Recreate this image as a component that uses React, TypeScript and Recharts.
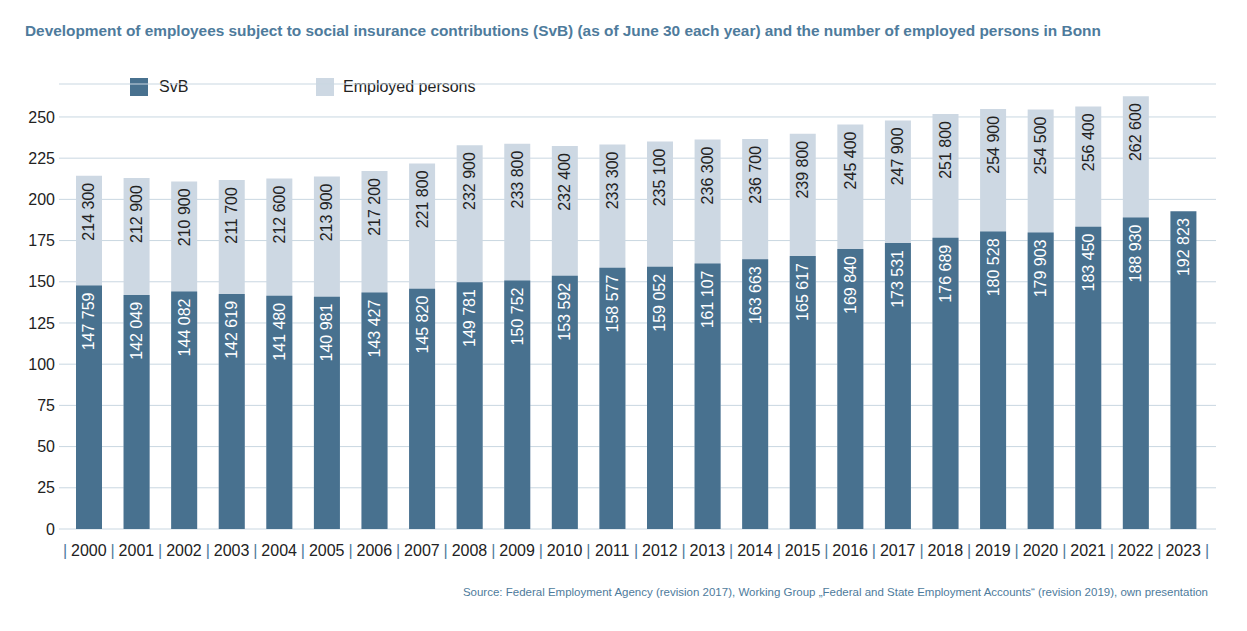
import { Bar, BarChart, CartesianGrid, XAxis, YAxis, LabelList } from "recharts"

const years = ["2000", "2001", "2002", "2003", "2004", "2005", "2006", "2007", "2008", "2009", "2010", "2011", "2012", "2013", "2014", "2015", "2016", "2017", "2018", "2019", "2020", "2021", "2022", "2023"]

// Sozialversicherungspflichtig Beschäftigte (30.06.)
const svb = [147759, 142049, 144082, 142619, 141480, 140981, 143427, 145820, 149781, 150752, 153592, 158577, 159052, 161107, 163663, 165617, 169840, 173531, 176689, 180528, 179903, 183450, 188930, 192823]

// Erwerbstätige (2023 noch nicht verfügbar)
const employed = [214300, 212900, 210900, 211700, 212600, 213900, 217200, 221800, 232900, 233800, 232400, 233300, 235100, 236300, 236700, 239800, 245400, 247900, 251800, 254900, 254500, 256400, 262600, null]

const yTicks = [0, 25, 50, 75, 100, 125, 150, 175, 200, 225, 250]

const DARK = "#48718f"
const LIGHT = "#cdd8e3"
const ACCENT = "#4e7b9c"
const FONT = "'Liberation Sans', Arial, sans-serif"

const chartData = years.map((y, i) => ({
  year: y,
  svb: svb[i] / 1000,
  employed: employed[i] === null ? null : (employed[i] as number) / 1000,
}))

// 147759 -> "147 759"
const fmt = (v: number) => {
  const s = String(v)
  return s.slice(0, s.length - 3) + " " + s.slice(s.length - 3)
}

const makeLabel = (fill: string, raw: (number | null)[]) => (props: any) => {
  const { x, y, width, index } = props
  const v = raw[index]
  if (v === null || v === undefined || typeof x !== "number") return null
  const cx = x + width / 2
  const cy = y + 7
  return (
    <text
      x={cx}
      y={cy}
      transform={`rotate(-90 ${cx} ${cy})`}
      textAnchor="end"
      dominantBaseline="central"
      fill={fill}
      fontSize={16}
      fontFamily={FONT}
    >
      {fmt(v)}
    </text>
  )
}

const YearTick = (props: any) => {
  const { x, y, payload, index } = props
  const half = 23.8
  const ty = y + 19
  return (
    <g>
      <text x={x - half} y={ty} textAnchor="middle" fill={ACCENT} fontSize={16} fontFamily={FONT}>|</text>
      <text x={x} y={ty} textAnchor="middle" fill="#222" fontSize={16} fontFamily={FONT}>{payload.value}</text>
      {index === years.length - 1 && (
        <text x={x + half} y={ty} textAnchor="middle" fill={ACCENT} fontSize={16} fontFamily={FONT}>|</text>
      )}
    </g>
  )
}

export default function App() {
  return (
    <div style={{ position: "absolute", left: 0, top: 0, width: 1247, height: 631, background: "#fff", fontFamily: FONT }}>
      <div style={{ position: "absolute", left: 25, top: 22, fontSize: 15.4, fontWeight: "bold", color: ACCENT, whiteSpace: "nowrap" }}>
        Development of employees subject to social insurance contributions (SvB) (as of June 30 each year) and the number of employed persons in Bonn
      </div>
      <div style={{ position: "absolute", left: 130, top: 78, width: 18, height: 18, background: DARK }} />
      <div style={{ position: "absolute", left: 159, top: 78, fontSize: 16, color: "#222" }}>SvB</div>
      <div style={{ position: "absolute", left: 316, top: 78, width: 18, height: 18, background: LIGHT }} />
      <div style={{ position: "absolute", left: 343, top: 78, fontSize: 16, color: "#222" }}>Employed persons</div>
      <div style={{ position: "absolute", left: 0, top: 0 }}>
        <BarChart
          width={1247}
          height={631}
          data={chartData}
          margin={{ top: 84, right: 31, left: 0, bottom: 72 }}
          barSize={26}
          barGap={-26}
        >
          <CartesianGrid vertical={false} stroke="#c9d7e1" strokeWidth={1} />
          <XAxis
            dataKey="year"
            axisLine={false}
            tickLine={false}
            padding={{ left: 6, right: 9 }}
            tick={<YearTick />}
            interval={0}
            height={30}
          />
          <YAxis
            domain={[0, 270]}
            ticks={yTicks}
            allowDataOverflow
            axisLine={false}
            tickLine={false}
            tickSize={0}
            tickMargin={4}
            width={59}
            tick={{ fill: "#222", fontSize: 16, fontFamily: FONT }}
          />
          <Bar dataKey="employed" fill={LIGHT} isAnimationActive={false}>
            <LabelList dataKey="employed" content={makeLabel("#222", employed)} />
          </Bar>
          <Bar dataKey="svb" fill={DARK} isAnimationActive={false}>
            <LabelList dataKey="svb" content={makeLabel("#fff", svb)} />
          </Bar>
        </BarChart>
      </div>
      <div style={{ position: "absolute", right: 39, top: 586, fontSize: 11.5, color: ACCENT, whiteSpace: "nowrap" }}>
        Source: Federal Employment Agency (revision 2017), Working Group „Federal and State Employment Accounts“ (revision 2019), own presentation
      </div>
    </div>
  )
}
